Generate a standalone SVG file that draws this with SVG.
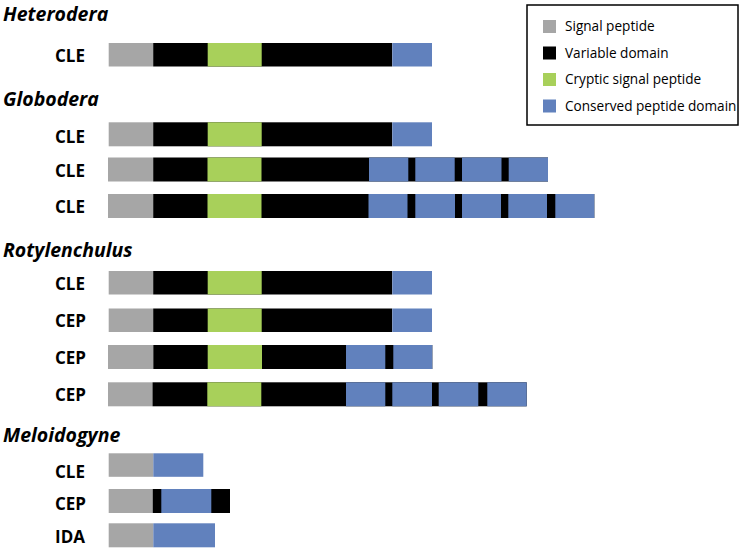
<svg xmlns="http://www.w3.org/2000/svg" width="742" height="550" viewBox="0 0 742 550">
<style>
.sp{fill:#a6a6a6}.vd{fill:#000}.cs{fill:#a8d05a}.cp{fill:#6181bd}
.title{font-family:"Open Sans","Liberation Sans",sans-serif;font-weight:bold;font-style:italic;font-size:19.5px;fill:#000}
.lbl{font-family:"Open Sans","Liberation Sans",sans-serif;font-weight:bold;font-size:17px;fill:#000}
.leg{font-family:"Open Sans","Liberation Sans",sans-serif;font-size:13.6px;fill:#000}
</style>
<rect width="742" height="550" fill="#fff"/>
<g id="titles">
<text class="title" x="3" y="21">Heterodera</text>
<text class="title" x="3" y="105.5">Globodera</text>
<text class="title" x="3" y="256.5">Rotylenchulus</text>
<text class="title" x="3" y="441.5">Meloidogyne</text>
</g>
<g id="legend">
<rect x="527" y="5" width="211" height="120" fill="#fff" stroke="#000" stroke-width="1.5"/>
<rect class="sp" x="543" y="20" width="13" height="13"/>
<rect class="vd" x="543" y="46.5" width="13" height="13"/>
<rect class="cs" x="543" y="73" width="13" height="13"/>
<rect class="cp" x="543" y="99.5" width="13" height="13"/>
<text class="leg" x="565" y="31">Signal peptide</text>
<text class="leg" x="565" y="57.5">Variable domain</text>
<text class="leg" x="565" y="84">Cryptic signal peptide</text>
<text class="leg" x="565" y="110.5">Conserved peptide domain</text>
</g>
<g id="het-cle">
<text class="lbl" x="55" y="62">CLE</text>
<rect class="sp" x="108.7" y="43" width="44.5" height="23.5"/>
<rect class="vd" x="153.2" y="43" width="239" height="23.5"/>
<rect class="cs" x="207.7" y="43" width="54" height="23.5"/>
<rect class="cp" x="392.3" y="43" width="39.7" height="23.5"/>
</g>
<g id="glo-cle1">
<text class="lbl" x="55" y="143">CLE</text>
<rect class="sp" x="108.7" y="122.3" width="44.5" height="24"/>
<rect class="vd" x="153.2" y="122.3" width="239" height="24"/>
<rect class="cs" x="207.7" y="122.3" width="54" height="24"/>
<rect class="cp" x="392.3" y="122.3" width="39.7" height="24"/>
</g>
<g id="glo-cle2">
<text class="lbl" x="55" y="177">CLE</text>
<rect class="sp" x="108" y="157.5" width="45.2" height="24"/>
<rect class="vd" x="153.2" y="157.5" width="394.8" height="24"/>
<rect class="cs" x="207.5" y="157.5" width="54" height="24"/>
<rect class="cp" x="369" y="157.5" width="39.3" height="24"/>
<rect class="cp" x="415.3" y="157.5" width="39.4" height="24"/>
<rect class="cp" x="462" y="157.5" width="39.5" height="24"/>
<rect class="cp" x="508.7" y="157.5" width="39.3" height="24"/>
</g>
<g id="glo-cle3">
<text class="lbl" x="55" y="213">CLE</text>
<rect class="sp" x="108" y="194" width="45.2" height="24"/>
<rect class="vd" x="153.2" y="194" width="441.1" height="24"/>
<rect class="cs" x="207.5" y="194" width="54" height="24"/>
<rect class="cp" x="368.5" y="194" width="39" height="24"/>
<rect class="cp" x="415.3" y="194" width="39.7" height="24"/>
<rect class="cp" x="462" y="194" width="39" height="24"/>
<rect class="cp" x="508.3" y="194" width="38.7" height="24"/>
<rect class="cp" x="555.3" y="194" width="39" height="24"/>
</g>
<g id="rot-cle">
<text class="lbl" x="55" y="290">CLE</text>
<rect class="sp" x="108.7" y="271" width="44.5" height="23.5"/>
<rect class="vd" x="153.2" y="271" width="239" height="23.5"/>
<rect class="cs" x="207.7" y="271" width="54" height="23.5"/>
<rect class="cp" x="392.3" y="271" width="39.7" height="23.5"/>
</g>
<g id="rot-cep1">
<text class="lbl" x="55" y="326.5">CEP</text>
<rect class="sp" x="108.7" y="308.5" width="44.5" height="23.5"/>
<rect class="vd" x="153.2" y="308.5" width="239" height="23.5"/>
<rect class="cs" x="207.7" y="308.5" width="54" height="23.5"/>
<rect class="cp" x="392.3" y="308.5" width="39.7" height="23.5"/>
</g>
<g id="rot-cep2">
<text class="lbl" x="55" y="364">CEP</text>
<rect class="sp" x="108" y="345" width="45.3" height="24"/>
<rect class="vd" x="153.3" y="345" width="279" height="24"/>
<rect class="cs" x="207.7" y="345" width="54.3" height="24"/>
<rect class="cp" x="346" y="345" width="39.3" height="24"/>
<rect class="cp" x="393.3" y="345" width="39" height="24"/>
</g>
<g id="rot-cep3">
<text class="lbl" x="55" y="401">CEP</text>
<rect class="sp" x="108" y="382.3" width="44.5" height="24"/>
<rect class="vd" x="152.5" y="382.3" width="374.2" height="24"/>
<rect class="cs" x="207.3" y="382.3" width="54" height="24"/>
<rect class="cp" x="346" y="382.3" width="39.3" height="24"/>
<rect class="cp" x="392.3" y="382.3" width="39.7" height="24"/>
<rect class="cp" x="438.7" y="382.3" width="39.6" height="24"/>
<rect class="cp" x="487.3" y="382.3" width="39.4" height="24"/>
</g>
<g id="mel-cle">
<text class="lbl" x="55" y="478">CLE</text>
<rect class="sp" x="108.7" y="453.3" width="44.6" height="23.5"/>
<rect class="cp" x="153.3" y="453.3" width="50" height="23.5"/>
</g>
<g id="mel-cep">
<text class="lbl" x="55" y="510">CEP</text>
<rect class="sp" x="108.7" y="489" width="44" height="24"/>
<rect class="vd" x="152.7" y="489" width="77.3" height="24"/>
<rect class="cp" x="161.3" y="489" width="50" height="24"/>
</g>
<g id="mel-ida">
<text class="lbl" x="55" y="543">IDA</text>
<rect class="sp" x="108.7" y="523.3" width="44.6" height="24"/>
<rect class="cp" x="153.3" y="523.3" width="61.7" height="24"/>
</g>
</svg>
